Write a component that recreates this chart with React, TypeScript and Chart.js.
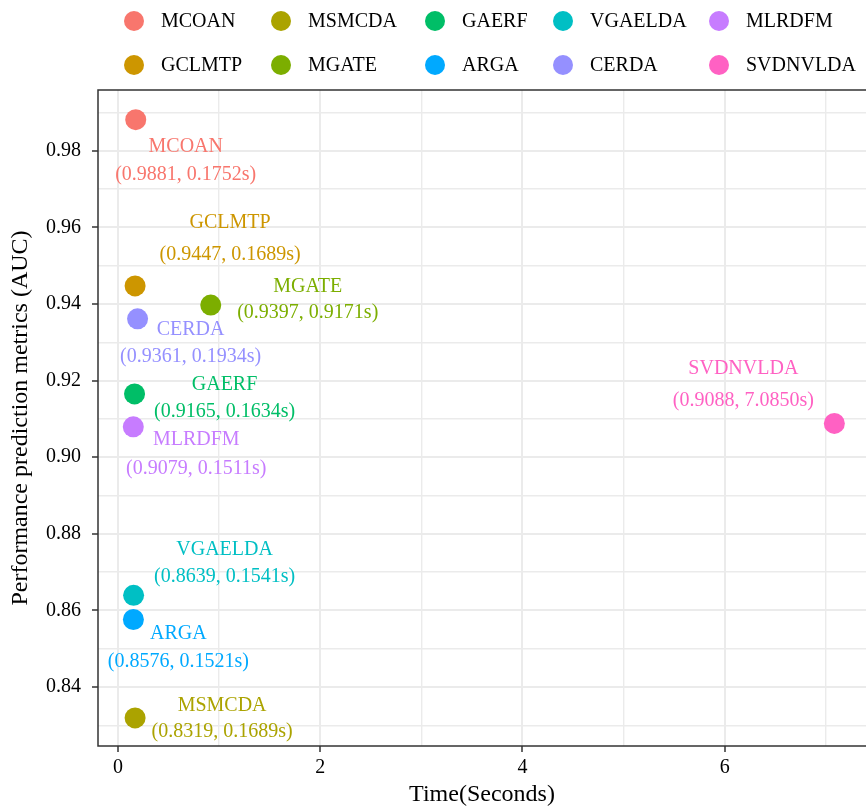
import React, { useEffect, useRef } from 'react';
import { Chart, registerables, ScatterController } from 'chart.js';

// Scatter controller that does not reserve extra layout padding for point radius
class PanelScatterController extends (ScatterController as any) {
  static id = 'panelScatter';
  getMaxOverflow() {
    return 0;
  }
}

Chart.register(...registerables, PanelScatterController as any);

const FONT = '"Liberation Serif", "Times New Roman", serif';

// ---- data ----
const methods = ['MCOAN', 'GCLMTP', 'MSMCDA', 'MGATE', 'GAERF', 'VGAELDA', 'ARGA', 'CERDA', 'MLRDFM', 'SVDNVLDA'];
const timeSec = [0.1752, 0.1689, 0.1689, 0.9171, 0.1634, 0.1541, 0.1521, 0.1934, 0.1511, 7.085];
const auc = [0.9881, 0.9447, 0.8319, 0.9397, 0.9165, 0.8639, 0.8576, 0.9361, 0.9079, 0.9088];
const colors = ['#F8766D', '#CD9600', '#ABA300', '#7CAE00', '#00BE67', '#00BFC4', '#00A9FF', '#9590FF', '#C77CFF', '#FF61C3'];

const xMajorTicks = [0, 2, 4, 6];
const xMinorTicks = [1, 3, 5, 7];
const yMajorTicks = [0.84, 0.86, 0.88, 0.9, 0.92, 0.94, 0.96, 0.98];
const yMinorTicks = [0.83, 0.85, 0.87, 0.89, 0.91, 0.93, 0.95, 0.97, 0.99];
const xRange = [-0.198, 7.398];
const yRange = [0.82457, 0.99585];

const legendRows = [
  ['MCOAN', 'MSMCDA', 'GAERF', 'VGAELDA', 'MLRDFM'],
  ['GCLMTP', 'MGATE', 'ARGA', 'CERDA', 'SVDNVLDA'],
];

// ---- layout (pixel offsets of the text labels from their points) ----
const labelOffsets: number[][] = [
  [50, 27.5, 55],
  [95, -63, -31],
  [87, -12, 14],
  [97, -18.3, 8],
  [90, -9, 18],
  [91, -46, -18.7],
  [45, 14.5, 42],
  [53, 11, 38],
  [63, 13, 41.5],
  [-91, -55, -23],
];
const legendColX = [134, 281, 435, 563, 719];
const legendRowY = [21, 65];

const overlayPlugin = {
  id: 'overlay',
  afterDatasetsDraw(chart: any) {
    const ctx = chart.ctx;
    const { left, top, right, bottom } = chart.chartArea;
    ctx.save();
    // point labels
    ctx.font = `20px ${FONT}`;
    ctx.textAlign = 'center';
    ctx.textBaseline = 'middle';
    methods.forEach((m, i) => {
      const el = chart.getDatasetMeta(i).data[0];
      if (!el) return;
      const [dx, dy1, dy2] = labelOffsets[i];
      ctx.fillStyle = colors[i];
      ctx.fillText(m, el.x + dx, el.y + dy1);
      ctx.fillText(`(${auc[i].toFixed(4)}, ${timeSec[i].toFixed(4)}s)`, el.x + dx, el.y + dy2);
    });
    // panel border
    ctx.strokeStyle = '#333333';
    ctx.lineWidth = 1.5;
    ctx.strokeRect(left, top, right - left + 6, bottom - top);
    // legend
    ctx.textAlign = 'left';
    legendRows.forEach((row, r) => {
      row.forEach((name, c) => {
        const idx = methods.indexOf(name);
        const cx = legendColX[c];
        const cy = legendRowY[r];
        ctx.fillStyle = colors[idx];
        ctx.beginPath();
        ctx.arc(cx, cy, 10, 0, Math.PI * 2);
        ctx.fill();
        ctx.fillStyle = '#000000';
        ctx.fillText(name, cx + 27, cy + 1);
      });
    });
    ctx.restore();
  },
};

export default function App() {
  const canvasRef = useRef<HTMLCanvasElement | null>(null);

  useEffect(() => {
    if (!canvasRef.current) return;
    const gridColor = '#EBEBEB';
    const chart = new Chart(canvasRef.current, {
      type: 'panelScatter',
      data: {
        datasets: methods.map((m, i) => ({
          label: m,
          data: [{ x: timeSec[i], y: auc[i] }],
          backgroundColor: colors[i],
          borderWidth: 0,
          showLine: false,
          pointRadius: 10.5,
          pointHoverRadius: 10.5,
          pointBorderWidth: 0,
        })),
      },
      options: {
        animation: false,
        responsive: true,
        maintainAspectRatio: false,
        layout: { padding: { top: 90, right: 0, bottom: 0, left: 0 } },
        plugins: {
          legend: { display: false },
          tooltip: { enabled: false },
          title: { display: false },
        },
        scales: {
          x: {
            type: 'linear',
            position: 'bottom',
            min: xRange[0],
            max: xRange[1],
            afterBuildTicks: (s: any) => {
              s.ticks = [...xMajorTicks, ...xMinorTicks].sort((a, b) => a - b).map((v) => ({ value: v }));
            },
            afterFit: (s: any) => {
              s.height = 60;
              s.paddingLeft = 0;
              s.paddingRight = 0;
            },
            border: { display: false },
            grid: {
              color: gridColor,
              lineWidth: (c: any) => (xMajorTicks.includes(c.tick?.value) ? 2 : 1.4),
              tickColor: (c: any) => (xMajorTicks.includes(c.tick?.value) ? '#333333' : 'rgba(0,0,0,0)'),
              tickLength: 6,
              tickWidth: 1.5,
            },
            ticks: {
              autoSkip: false,
              maxRotation: 0,
              padding: 4,
              color: '#000000',
              font: { family: FONT, size: 20 },
              callback: (v: any) => (xMajorTicks.includes(v) ? String(v) : ''),
            },
            title: {
              display: true,
              text: 'Time(Seconds)',
              color: '#000000',
              font: { family: FONT, size: 24, lineHeight: 1 },
              padding: { top: 0, bottom: -1 },
            },
          },
          y: {
            type: 'linear',
            position: 'left',
            min: yRange[0],
            max: yRange[1],
            afterBuildTicks: (s: any) => {
              s.ticks = [...yMajorTicks, ...yMinorTicks].sort((a, b) => a - b).map((v) => ({ value: v }));
            },
            afterFit: (s: any) => {
              s.width = 98;
              s.paddingTop = 0;
              s.paddingBottom = 0;
            },
            border: { display: false },
            grid: {
              color: gridColor,
              lineWidth: (c: any) => (yMajorTicks.includes(c.tick?.value) ? 2 : 1.4),
              tickColor: (c: any) => (yMajorTicks.includes(c.tick?.value) ? '#333333' : 'rgba(0,0,0,0)'),
              tickLength: 6,
              tickWidth: 1.5,
            },
            ticks: {
              autoSkip: false,
              padding: 11,
              color: '#000000',
              font: { family: FONT, size: 20 },
              callback: (v: any) => (yMajorTicks.includes(v) ? v.toFixed(2) : ''),
            },
            title: {
              display: true,
              text: 'Performance prediction metrics (AUC)',
              color: '#000000',
              font: { family: FONT, size: 24, lineHeight: 1 },
              padding: { top: 9, bottom: 0 },
            },
          },
        },
      },
      plugins: [overlayPlugin],
    } as any);
    return () => chart.destroy();
  }, []);

  return (
    <div style={{ position: 'absolute', left: 0, top: 0, width: 866, height: 806, background: '#ffffff' }}>
      <canvas ref={canvasRef} />
    </div>
  );
}
